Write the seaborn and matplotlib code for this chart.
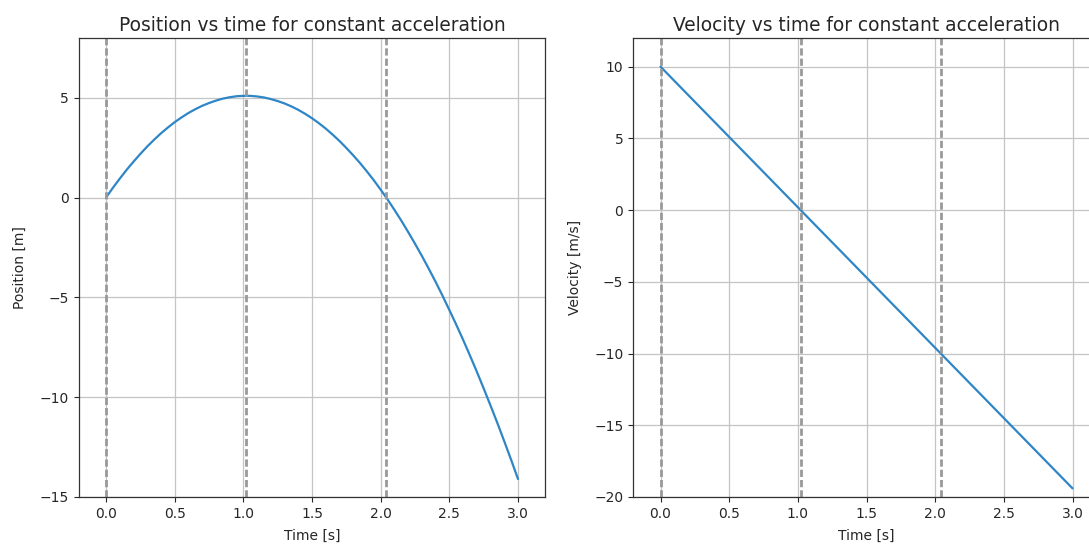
import numpy as np
import pandas as pd
import matplotlib
matplotlib.use("Agg")
import matplotlib.pyplot as plt
import seaborn as sns

# values
time_s = [0.00, 0.05, 0.10, 0.15, 0.20, 0.25, 0.30, 0.35, 0.40, 0.45,
          0.50, 0.55, 0.60, 0.65, 0.70, 0.75, 0.80, 0.85, 0.90, 0.95,
          1.00, 1.05, 1.10, 1.15, 1.20, 1.25, 1.30, 1.35, 1.40, 1.45,
          1.50, 1.55, 1.60, 1.65, 1.70, 1.75, 1.80, 1.85, 1.90, 1.95,
          2.00, 2.05, 2.10, 2.15, 2.20, 2.25, 2.30, 2.35, 2.40, 2.45,
          2.50, 2.55, 2.60, 2.65, 2.70, 2.75, 2.80, 2.85, 2.90, 2.95, 3.00]
position_m = [0.00, 0.49, 0.95, 1.39, 1.80, 2.19, 2.56, 2.90, 3.22, 3.51,
              3.78, 4.02, 4.24, 4.43, 4.60, 4.74, 4.86, 4.96, 5.03, 5.08,
              5.10, 5.10, 5.07, 5.02, 4.94, 4.84, 4.72, 4.57, 4.40, 4.20,
              3.98, 3.73, 3.46, 3.16, 2.84, 2.49, 2.12, 1.73, 1.31, 0.87,
              0.40, -0.09, -0.61, -1.15, -1.72, -2.31, -2.92, -3.56, -4.22, -4.91,
              -5.63, -6.36, -7.12, -7.91, -8.72, -9.56, -10.42, -11.30, -12.21, -13.14, -14.10]
velocity_ms = [10.00, 9.51, 9.02, 8.53, 8.04, 7.55, 7.06, 6.57, 6.08, 5.59,
               5.10, 4.61, 4.12, 3.63, 3.14, 2.65, 2.16, 1.67, 1.18, 0.69,
               0.20, -0.29, -0.78, -1.27, -1.76, -2.25, -2.74, -3.23, -3.72, -4.21,
               -4.70, -5.19, -5.68, -6.17, -6.66, -7.15, -7.64, -8.13, -8.62, -9.11,
               -9.60, -10.09, -10.58, -11.07, -11.56, -12.05, -12.54, -13.03, -13.52, -14.01,
               -14.50, -14.99, -15.48, -15.97, -16.46, -16.95, -17.44, -17.93, -18.42, -18.91, -19.40]
event_times = [0.0, 1.02, 2.04]

df = pd.DataFrame({"t": time_s, "x": position_m, "v": velocity_ms})

sns.set_style("ticks")
plt.rcParams['font.family'] = ['DejaVu Sans']
plt.rcParams['xtick.direction'] = 'out'
plt.rcParams['ytick.direction'] = 'out'

fig = plt.figure(figsize=(10.89, 5.45), dpi=100)
ax1 = fig.add_axes([0.0721, 0.0881, 0.4288, 0.8422])
ax2 = fig.add_axes([0.5813, 0.0881, 0.4288, 0.8422])

line_color = '#2f86c6'

panels = [
    (ax1, "x", "Position [m]", "Position vs time for constant acceleration", (-15, 8), [-15, -10, -5, 0, 5]),
    (ax2, "v", "Velocity [m/s]", "Velocity vs time for constant acceleration", (-20, 12), [-20, -15, -10, -5, 0, 5, 10]),
]

for ax, col, ylab, title, ylim, yticks in panels:
    ax.grid(True, color='#c4c4c4', linewidth=0.9)
    ax.set_axisbelow(True)
    sns.lineplot(data=df, x="t", y=col, ax=ax, color=line_color, linewidth=1.6)
    for et in event_times:
        ax.axvline(et, color='#999999', linestyle=(0, (2.6, 1.1)), linewidth=2)
    ax.set_xlim(-0.2, 3.2)
    ax.set_ylim(*ylim)
    ax.set_xticks([0.0, 0.5, 1.0, 1.5, 2.0, 2.5, 3.0])
    ax.set_yticks(yticks)
    ax.set_xlabel("Time [s]", fontsize=10, color='#262626', labelpad=6)
    ax.set_ylabel(ylab, fontsize=10, color='#262626', labelpad=9)
    ax.set_title(title, fontsize=13.4, color='#262626', pad=5)
    ax.tick_params(labelsize=10, colors='#262626', length=3.5, width=0.8)
    for sp in ax.spines.values():
        sp.set_visible(True)
        sp.set_color('#333333')
        sp.set_linewidth(0.9)

fig.savefig("out.png", dpi=100)
